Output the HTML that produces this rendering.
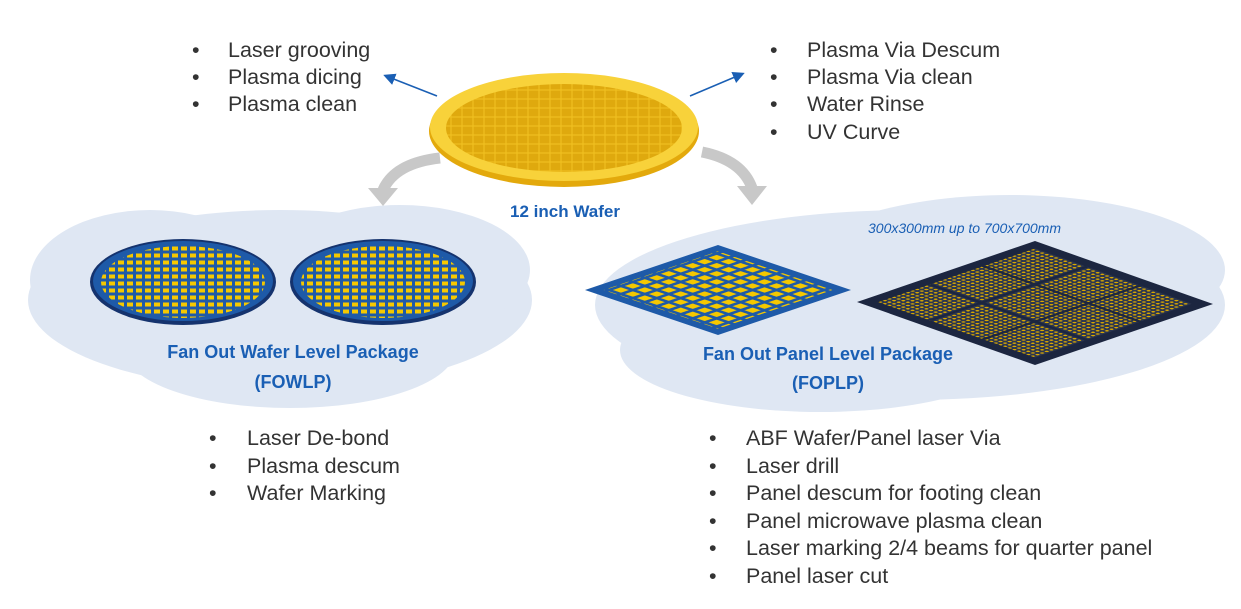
<!DOCTYPE html>
<html><head><meta charset="utf-8"><style>
html,body{margin:0;padding:0;background:#fff;}
svg{display:block;}
.b{font-family:"Liberation Sans",sans-serif;font-size:21.5px;fill:#333;}
.l{font-family:"Liberation Sans",sans-serif;font-weight:bold;fill:#1a5fb4;}
</style></head><body>
<svg width="1241" height="609" viewBox="0 0 1241 609" xmlns="http://www.w3.org/2000/svg">
<defs>
 <pattern id="wg" x="0" y="0" width="11" height="9" patternUnits="userSpaceOnUse">
  <rect width="11" height="9" fill="#f0c020"/><rect x="0.6" y="0.6" width="9.8" height="7.8" fill="#dfa90e"/>
 </pattern>
 <pattern id="fd" x="0" y="0" width="9" height="7" patternUnits="userSpaceOnUse">
  <rect width="9" height="7" fill="#1e5aa8"/><rect x="1" y="1.5" width="6" height="4" fill="#f5c800"/>
 </pattern>
 <pattern id="pd1" x="0" y="0" width="9" height="9" patternUnits="userSpaceOnUse">
  <rect width="9" height="9" fill="#1e5aa8"/><rect x="1.5" y="1.5" width="6" height="6" fill="#f5c800"/>
 </pattern>
 <pattern id="pd2" x="0" y="0" width="2.6" height="2.6" patternUnits="userSpaceOnUse">
  <rect width="2.6" height="2.6" fill="#2a3550"/><circle cx="1.3" cy="1.3" r="0.8" fill="#d9a800"/>
 </pattern>
 <clipPath id="c1"><ellipse cx="564" cy="128" rx="118" ry="44"/></clipPath>
 <clipPath id="c2"><ellipse cx="183" cy="282" rx="82" ry="36"/></clipPath>
 <clipPath id="c3"><ellipse cx="383" cy="282" rx="82" ry="36"/></clipPath>
 <marker id="ah" markerWidth="8" markerHeight="8" refX="6" refY="4" orient="auto"><path d="M0,0 L8,4 L0,8 z" fill="#1a5fb4"/></marker>
</defs>

<g fill="#dfe7f3">
 <ellipse cx="280" cy="300" rx="252" ry="90"/>
 <ellipse cx="150" cy="280" rx="120" ry="70"/>
 <ellipse cx="290" cy="350" rx="165" ry="58"/>
 <ellipse cx="400" cy="270" rx="130" ry="65"/>
 <ellipse cx="910" cy="305" rx="315" ry="95"/>
 <ellipse cx="1010" cy="270" rx="215" ry="75"/>
 <ellipse cx="820" cy="350" rx="200" ry="62"/>
</g>

<g fill="none" stroke="#c8c8c8" stroke-width="11">
 <path d="M440,158 Q395,163 383,190"/>
 <path d="M702,152 Q742,160 752,188"/>
</g>
<path d="M368,188 L398,188 L383,206 z" fill="#c8c8c8"/>
<path d="M737,186 L767,186 L752,205 z" fill="#c8c8c8"/>

<ellipse cx="564" cy="131" rx="135" ry="56" fill="#e3a90c"/>
<ellipse cx="564" cy="127" rx="134" ry="54" fill="#f8d23a"/>
<g clip-path="url(#c1)"><rect x="430" y="72" width="270" height="110" fill="url(#wg)"/></g>
<text class="l" x="565" y="217" font-size="17" text-anchor="middle">12 inch Wafer</text>

<line x1="437" y1="96" x2="386" y2="76" stroke="#1a5fb4" stroke-width="1.5" marker-end="url(#ah)"/>
<line x1="690" y1="96" x2="742" y2="74" stroke="#1a5fb4" stroke-width="1.5" marker-end="url(#ah)"/>

<ellipse cx="183" cy="282" rx="93" ry="43" fill="#15336e"/>
<ellipse cx="183" cy="281" rx="90" ry="40" fill="#1e5aa8"/>
<g clip-path="url(#c2)"><rect x="100" y="244" width="170" height="76" fill="url(#fd)"/></g>
<ellipse cx="383" cy="282" rx="93" ry="43" fill="#15336e"/>
<ellipse cx="383" cy="281" rx="90" ry="40" fill="#1e5aa8"/>
<g clip-path="url(#c3)"><rect x="300" y="244" width="170" height="76" fill="url(#fd)"/></g>
<text class="l" x="293" y="358" font-size="18" text-anchor="middle">Fan Out Wafer Level Package</text>
<text class="l" x="293" y="388" font-size="18" text-anchor="middle">(FOWLP)</text>

<g transform="matrix(1.33,-0.45,1.33,0.45,585,290)">
 <rect x="0" y="0" width="100" height="100" fill="#1e5aa8"/>
 <rect x="7" y="7" width="86" height="86" fill="url(#pd1)"/>
</g>
<g transform="matrix(1.78,-0.61,1.78,0.63,857,302)">
 <rect x="0" y="0" width="100" height="100" fill="#1c2640"/>
 <rect x="6" y="6" width="88" height="88" fill="url(#pd2)"/>
 <g stroke="#1c2640" stroke-width="2">
  <line x1="35" y1="6" x2="35" y2="94"/><line x1="65" y1="6" x2="65" y2="94"/>
  <line x1="6" y1="35" x2="94" y2="35"/><line x1="6" y1="65" x2="94" y2="65"/>
 </g>
</g>
<text x="868" y="233" font-family="Liberation Sans,sans-serif" font-style="italic" font-size="14" fill="#1a5fb4">300x300mm up to 700x700mm</text>
<text class="l" x="828" y="360" font-size="18" text-anchor="middle">Fan Out Panel Level Package</text>
<text class="l" x="828" y="389" font-size="18" text-anchor="middle">(FOPLP)</text>

<g class="b">
 <text x="192" y="57">•</text><text x="228" y="57">Laser grooving</text>
 <text x="192" y="84">•</text><text x="228" y="84">Plasma dicing</text>
 <text x="192" y="111">•</text><text x="228" y="111">Plasma clean</text>

 <text x="770" y="57">•</text><text x="807" y="57">Plasma Via Descum</text>
 <text x="770" y="84">•</text><text x="807" y="84">Plasma Via clean</text>
 <text x="770" y="111">•</text><text x="807" y="111">Water Rinse</text>
 <text x="770" y="139">•</text><text x="807" y="139">UV Curve</text>

 <text x="209" y="445">•</text><text x="247" y="445">Laser De-bond</text>
 <text x="209" y="473">•</text><text x="247" y="473">Plasma descum</text>
 <text x="209" y="500">•</text><text x="247" y="500">Wafer Marking</text>

 <text x="709" y="445">•</text><text x="746" y="445">ABF Wafer/Panel laser Via</text>
 <text x="709" y="473">•</text><text x="746" y="473">Laser drill</text>
 <text x="709" y="500">•</text><text x="746" y="500">Panel descum for footing clean</text>
 <text x="709" y="528">•</text><text x="746" y="528">Panel microwave plasma clean</text>
 <text x="709" y="555">•</text><text x="746" y="555">Laser marking 2/4 beams for quarter panel</text>
 <text x="709" y="583">•</text><text x="746" y="583">Panel laser cut</text>
</g>
</svg>
</body></html>
